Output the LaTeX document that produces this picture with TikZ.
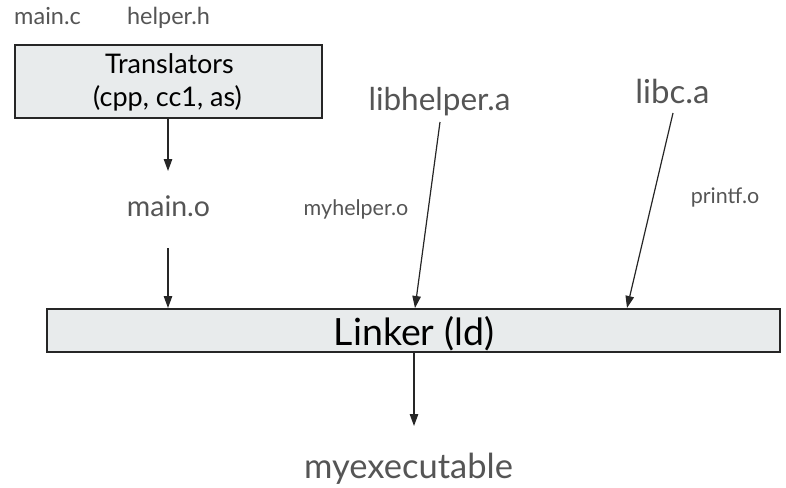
\documentclass[tikz,border=0pt]{standalone}
\usepackage{fontspec}
\setmainfont{Lato}
\usetikzlibrary{arrows.meta}
\definecolor{txtgray}{HTML}{555555}
\definecolor{boxfill}{HTML}{E8EBEC}
\tikzset{
  lbl/.style={text=txtgray, inner sep=0pt, anchor=base},
  boxtxt/.style={text=black, inner sep=0pt, anchor=base},
  procbox/.style={draw=black!85, line width=1.4pt, fill=boxfill, inner sep=0pt},
  conn/.style={-{Triangle[length=12pt,width=8.5pt]}, line width=1.2pt, black!85},
}
\begin{document}
\begin{tikzpicture}[x=1pt,y=-1pt]
\useasboundingbox (0,0) rectangle (786,487);
% boxes
\node[procbox, minimum width=307pt, minimum height=73pt] (trans) at (168.5,81.5) {};
\node[boxtxt, font=\fontsize{27}{32}\selectfont] (trans1) at (169.5,74) {Translators};
\node[boxtxt, font=\fontsize{27}{32}\selectfont] (trans2) at (167.5,106) {(cpp, cc1, as)};
\node[procbox, minimum width=733pt, minimum height=43pt] (linker) at (413.5,330.5) {};
\node[boxtxt, font=\fontsize{37.5}{42}\selectfont] (linkertxt) at (414,345) {Linker (ld)};
% labels
\node[lbl, font=\fontsize{23.5}{27}\selectfont] (mainc) at (47.5,25) {main.c};
\node[lbl, font=\fontsize{23.5}{27}\selectfont] (helperh) at (168.5,25) {helper.h};
\node[lbl, font=\fontsize{28.5}{33}\selectfont] (maino) at (168.5,216.5) {main.o};
\node[lbl, font=\fontsize{31.5}{36}\selectfont] (libhelper) at (439.5,110) {libhelper.a};
\node[lbl, font=\fontsize{33}{38}\selectfont] (libc) at (672.5,103) {libc.a};
\node[lbl, font=\fontsize{21.5}{25}\selectfont] (myhelper) at (356,215) {myhelper.o};
\node[lbl, font=\fontsize{21.5}{25}\selectfont] (printfo) at (725,203) {printf.o};
\node[lbl, font=\fontsize{34.5}{40}\selectfont] (myexe) at (408.5,478) {myexecutable};
% connectors
\coordinate (t2) at (168,171);
\draw[conn] (trans.south -| t2) -- (t2);
\coordinate (m1) at (168,248);
\coordinate (m2) at (168,308);
\draw[conn] (m1) -- (m2);
\coordinate (h1) at (440,122);
\coordinate (h2) at (415,308);
\draw[conn] (h1) -- (h2);
\coordinate (c1) at (673,113);
\coordinate (c2) at (627,308);
\draw[conn] (c1) -- (c2);
\coordinate (e2) at (414,426);
\draw[conn] (linker.south -| e2) -- (e2);
\end{tikzpicture}
\end{document}
